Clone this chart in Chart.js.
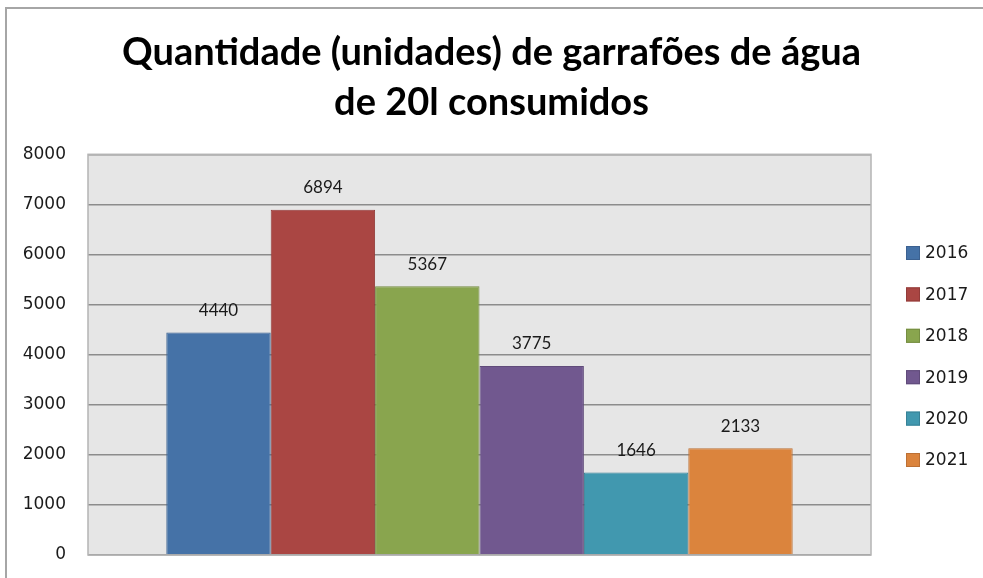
<!DOCTYPE html>
<html>
<head>
<meta charset="utf-8">
<script src="https://cdn.jsdelivr.net/npm/chart.js@4.4.1/dist/chart.umd.min.js"></script>
<style>
html,body{margin:0;padding:0;background:#fff;}
#wrap{width:983px;height:578px;position:relative;}
</style>
</head>
<body>
<div id="wrap"><canvas id="c" width="983" height="578"></canvas></div>
<script>
const categories = [''];
const seriesNames = ['2016', '2017', '2018', '2019', '2020', '2021'];
const seriesValues = [4440, 6894, 5367, 3775, 1646, 2133];
const seriesColors = ['#4572a7', '#aa4643', '#89a54e', '#71588f', '#4198af', '#db843d'];
const seriesBorders = ['#3b6191', '#923b39', '#758d42', '#604b7a', '#378196', '#bc7034'];
const yTicks = [0, 1000, 2000, 3000, 4000, 5000, 6000, 7000, 8000];
const titleLines = ['Quantidade (unidades) de garrafões de água', 'de 20l consumidos'];

const datasets = seriesNames.map((n, i) => ({
  label: n,
  data: [seriesValues[i]],
  backgroundColor: seriesColors[i],
  borderColor: seriesBorders[i],
  borderWidth: 1,
  categoryPercentage: 0.8,
  barPercentage: 1.0
}));

const decor = {
  id: 'decor',
  beforeDraw(chart) {
    const {ctx, chartArea: a} = chart;
    ctx.save();
    ctx.fillStyle = '#e6e6e6';
    ctx.fillRect(a.left, a.top, a.right - a.left, a.bottom - a.top);
    ctx.strokeStyle = '#a6a6a6';
    ctx.lineWidth = 2;
    ctx.beginPath();
    ctx.moveTo(6, 578);
    ctx.lineTo(6, 8);
    ctx.lineTo(983, 8);
    ctx.stroke();
    ctx.restore();
  },
  afterDatasetsDraw(chart) {
    const {ctx, chartArea: a} = chart;
    ctx.save();
    ctx.strokeStyle = '#b4b4b4';
    ctx.lineWidth = 1.5;
    ctx.strokeRect(a.left, a.top, a.right - a.left, a.bottom - a.top);
    ctx.font = '17px Lato';
    ctx.fillStyle = '#1a1a1a';
    ctx.textAlign = 'center';
    ctx.textBaseline = 'middle';
    chart.data.datasets.forEach((ds, i) => {
      const meta = chart.getDatasetMeta(i);
      meta.data.forEach((bar, j) => {
        ctx.fillText(String(ds.data[j]), bar.x, bar.y - 22);
      });
    });
    const rowY = [253, 295, 336, 377, 418, 460];
    ctx.font = '17px "DejaVu Sans"';
    ctx.textAlign = 'left';
    chart.data.datasets.forEach((ds, i) => {
      const y = rowY[0] + i * (rowY[5] - rowY[0]) / 5;
      ctx.fillStyle = ds.backgroundColor;
      ctx.fillRect(906, y - 7, 14, 14);
      ctx.strokeStyle = ds.borderColor;
      ctx.lineWidth = 1;
      ctx.strokeRect(906.5, y - 6.5, 13, 13);
      ctx.fillStyle = '#1a1a1a';
      ctx.fillText(ds.label, 925, y + 1);
    });
    ctx.restore();
  }
};

new Chart(document.getElementById('c'), {
  type: 'bar',
  data: { labels: categories, datasets },
  options: {
    responsive: false,
    animation: false,
    layout: { padding: { left: 0, right: 0, top: 0, bottom: 23 } },
    plugins: {
      legend: { display: false },
      tooltip: { enabled: false },
      title: {
        display: true,
        text: titleLines,
        color: '#000',
        font: { family: 'Lato', size: 38, weight: 'bold', lineHeight: 1.32 },
        padding: { top: 28, bottom: 26 }
      }
    },
    scales: {
      x: {
        grid: { display: false },
        border: { display: false },
        ticks: { display: false },
        afterFit(s) { s.height = 0; s.paddingLeft = 0; s.paddingRight = 0; }
      },
      y: {
        min: 0,
        max: 8000,
        afterFit(s) { s.width = 88; s.paddingTop = 0; s.paddingBottom = 0; },
        afterBuildTicks(s) { s.ticks = yTicks.map(v => ({ value: v })); },
        grid: { color: '#8c8c8c', lineWidth: 1.5, drawTicks: false },
        border: { display: false },
        ticks: {
          padding: 22,
          color: '#1a1a1a',
          font: { family: 'DejaVu Sans', size: 17 },
          callback: (v) => String(v)
        }
      },
      yRight: {
        position: 'right',
        min: 0,
        max: 8000,
        grid: { display: false },
        border: { display: false },
        ticks: { display: false },
        afterFit(s) { s.width = 112; s.paddingTop = 0; s.paddingBottom = 0; }
      }
    }
  },
  plugins: [decor]
});
</script>
</body>
</html>
